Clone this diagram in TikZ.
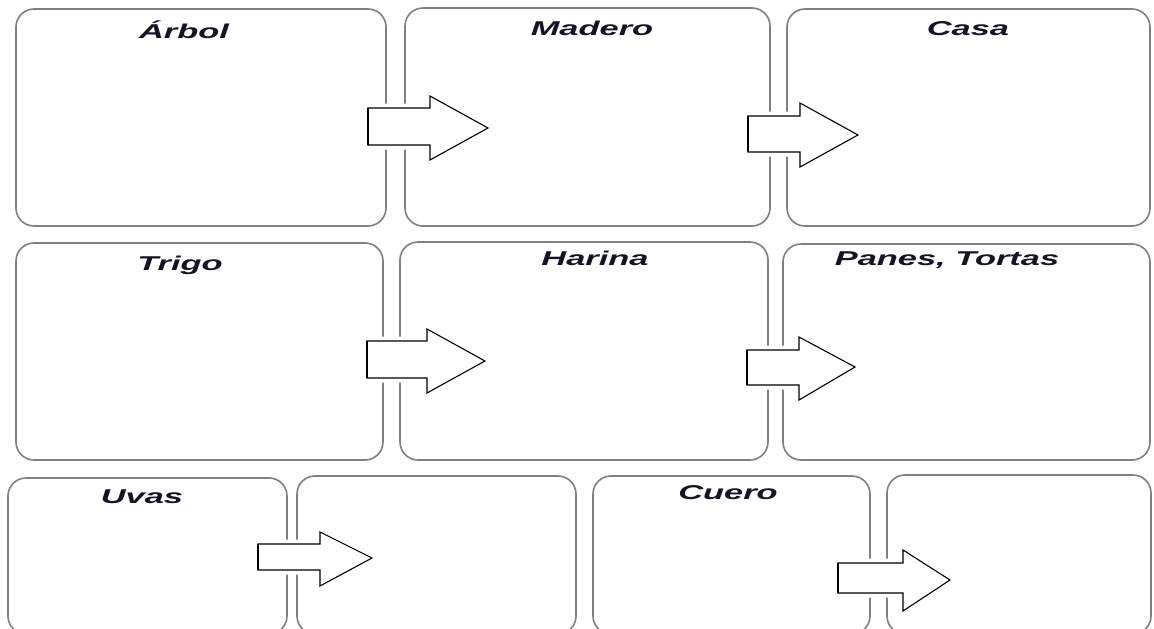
\documentclass[tikz,border=0pt]{standalone}
\usepackage{fontspec}
\setmainfont{Liberation Sans}
\usepackage{graphicx}
\definecolor{boxgray}{RGB}{128,128,128}
\definecolor{txt}{RGB}{20,20,40}
\newcommand\boxat[5]{\node[boxst, minimum width={#4-#2}, minimum height={#5-#3}] (#1) at ({(#2+#4)/2},{(#3+#5)/2}) {};}
% block arrow: shaft left, shaft top, shaft bottom, head base, head top, head bottom, tip x, tip y
\newcommand\blockarrow[8]{%
  \draw[blockarr] (#1,#2) -- (#4,#2) -- (#4,#5) -- (#7,#8) -- (#4,#6) -- (#4,#3) -- (#1,#3) -- cycle;
  \draw[black, line width=1.8pt] (#1,#2) -- (#1,#3);}
\begin{document}
\begin{tikzpicture}[x=1pt,y=-1pt,
  boxst/.style={draw=boxgray, line width=1.6pt, rounded corners=18pt, inner sep=0pt, outer sep=0pt, fill=white},
  blockarr/.style={draw=black, line width=1.1pt, fill=white, line join=miter,
     preaction={draw=white, line width=9pt}},
  lbl/.style={anchor=base, inner sep=0pt, text=txt, font=\fontsize{20}{24}\selectfont\bfseries\itshape}]
\useasboundingbox (0,0) rectangle (1154,629);
\clip (0,0) rectangle (1154,629);
\fill[white] (0,0) rectangle (1154,629);
% row 1
\boxat{A}{16}{9}{386}{226}
\boxat{B}{405}{8}{770}{226}
\boxat{C}{787}{9}{1150}{226}
% row 2
\boxat{D}{16}{243}{383}{460}
\boxat{E}{400}{242}{768}{460}
\boxat{F}{783}{244}{1150}{460}
% row 3
\boxat{G}{8}{478}{287}{634}
\boxat{H}{297}{476}{576}{634}
\boxat{I}{593}{476}{870}{634}
\boxat{J}{887}{475}{1151}{634}
% labels
\node[lbl] (tA) at (184,38) {\scalebox{1.72}[1]{Árbol}};
\node[lbl] (tB) at (592,35) {\scalebox{1.72}[1]{Madero}};
\node[lbl] (tC) at (968,35) {\scalebox{1.72}[1]{Casa}};
\node[lbl] (tD) at (180,270) {\scalebox{1.72}[1]{Trigo}};
\node[lbl] (tE) at (595,265) {\scalebox{1.72}[1]{Harina}};
\node[lbl] (tF) at (947,265) {\scalebox{1.72}[1]{Panes, Tortas}};
\node[lbl] (tG) at (142,503) {\scalebox{1.72}[1]{Uvas}};
\node[lbl] (tI) at (728,499) {\scalebox{1.72}[1]{Cuero}};
% arrows
\blockarrow{368}{108}{145}{430}{96}{160}{488}{128}
\blockarrow{748}{116}{152}{800}{103}{167}{858}{135}
\blockarrow{367}{341}{378}{427}{329}{393}{485}{361}
\blockarrow{747}{350}{385}{799}{337}{400}{855}{367}
\blockarrow{258}{544}{570}{320}{532}{586}{372}{558}
\blockarrow{838}{563}{593}{903}{550}{611}{950}{580}
\end{tikzpicture}
\end{document}
